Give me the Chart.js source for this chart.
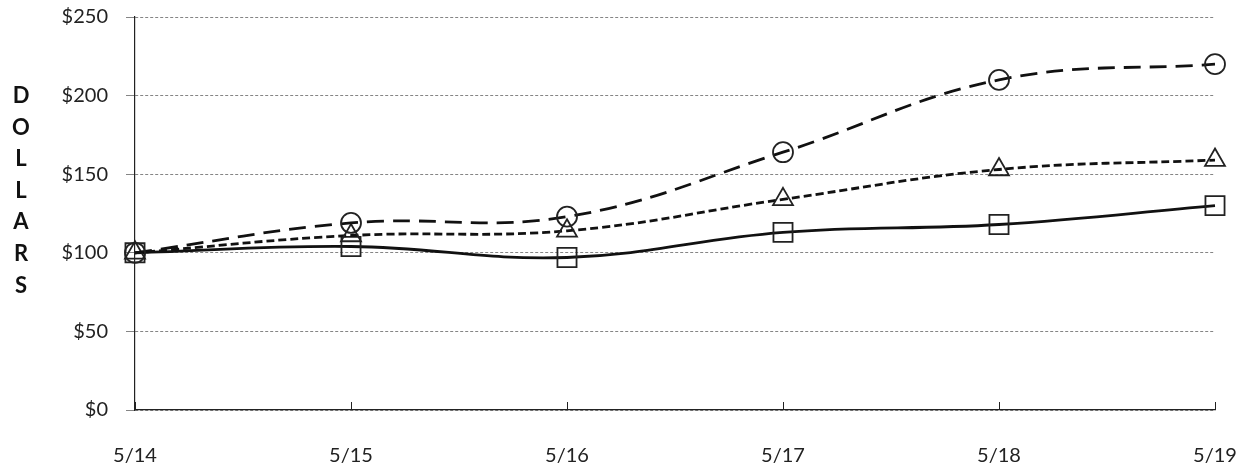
<!DOCTYPE html>
<html>
<head>
<meta charset="utf-8">
<script src="https://cdn.jsdelivr.net/npm/chart.js@4"></script>
<style>
  body { margin: 0; background: #fff; }
</style>
</head>
<body>
<canvas id="chart" width="1243" height="466"></canvas>
<script>
const dates = ['5/14', '5/15', '5/16', '5/17', '5/18', '5/19'];
const circleSeries = [100, 119, 123, 164, 210, 220];
const triangleSeries = [100, 111, 114, 134, 153, 159];
const squareSeries = [100, 104, 97, 113, 118, 130];
const yTitle = ['D', 'O', 'L', 'L', 'A', 'R', 'S'];

const FONT = 'Lato, "Open Sans", sans-serif';

// y title drawn letter by letter, x ticks drawn pointing up into the plot
const extras = {
	id: 'extras',
	afterDraw(chart) {
		const c = chart.ctx;
		const x = chart.scales.x;
		const area = chart.chartArea;
		c.save();
		c.strokeStyle = '#222';
		c.lineWidth = 1;
		c.beginPath();
		for (let i = 0; i < dates.length; i++) {
			const px = Math.round(x.getPixelForTick(i)) + 0.5;
			c.moveTo(px, area.bottom);
			c.lineTo(px, area.bottom - 8);
		}
		c.stroke();

		c.fillStyle = '#111';
		c.font = 'bold 22px ' + FONT;
		c.textAlign = 'center';
		c.textBaseline = 'middle';
		yTitle.forEach((ch, i) => {
			c.fillText(ch, 21, 96 + i * 31.6);
		});
		c.restore();
	}
};

const series = (label, data, style, dash, radius) => ({
	label: label,
	data: data,
	borderColor: '#111',
	borderWidth: 2.8,
	borderDash: dash,
	tension: 0.4,
	fill: false,
	clip: false,
	pointStyle: style,
	pointRadius: radius,
	pointHoverRadius: radius,
	pointBackgroundColor: 'rgba(255,255,255,0)',
	pointBorderColor: '#222',
	pointBorderWidth: 1.8,
});

const config = {
	type: 'line',
	data: {
		labels: dates,
		datasets: [
			series('circle', circleSeries, 'circle', [17, 9], 10),
			series('triangle', triangleSeries, 'triangle', [8, 4], 11.5),
			series('square', squareSeries, 'rect', [], 13.5),
		]
	},
	options: {
		responsive: false,
		animation: false,
		layout: {
			autoPadding: false,
			padding: { left: 45, right: 28, top: 17, bottom: 0 }
		},
		plugins: {
			legend: { display: false },
			tooltip: { enabled: false }
		},
		scales: {
			x: {
				offset: false,
				grid: { display: false },
				border: { display: true, color: '#222', width: 1.2 },
				afterFit: function(scale) {
					scale.height = 56;
					scale.paddingLeft = 0;
					scale.paddingRight = 0;
				},
				ticks: {
					color: '#222',
					padding: 26,
					maxRotation: 0,
					font: { family: FONT, size: 20 }
				}
			},
			y: {
				min: 0,
				max: 250,
				grid: {
					color: '#666',
					lineWidth: 0.8,
					drawTicks: true,
					tickLength: 9
				},
				border: { display: true, color: '#222', width: 1.2, dash: [3, 2] },
				afterFit: function(scale) {
					scale.width = 90;
					scale.paddingTop = 0;
					scale.paddingBottom = 0;
				},
				ticks: {
					stepSize: 50,
					color: '#222',
					padding: 18,
					font: { family: FONT, size: 20 },
					callback: function(value) {
						return '$' + value;
					}
				}
			}
		}
	},
	plugins: [extras]
};

const chart = new Chart(document.getElementById('chart').getContext('2d'), config);
</script>
</body>
</html>
